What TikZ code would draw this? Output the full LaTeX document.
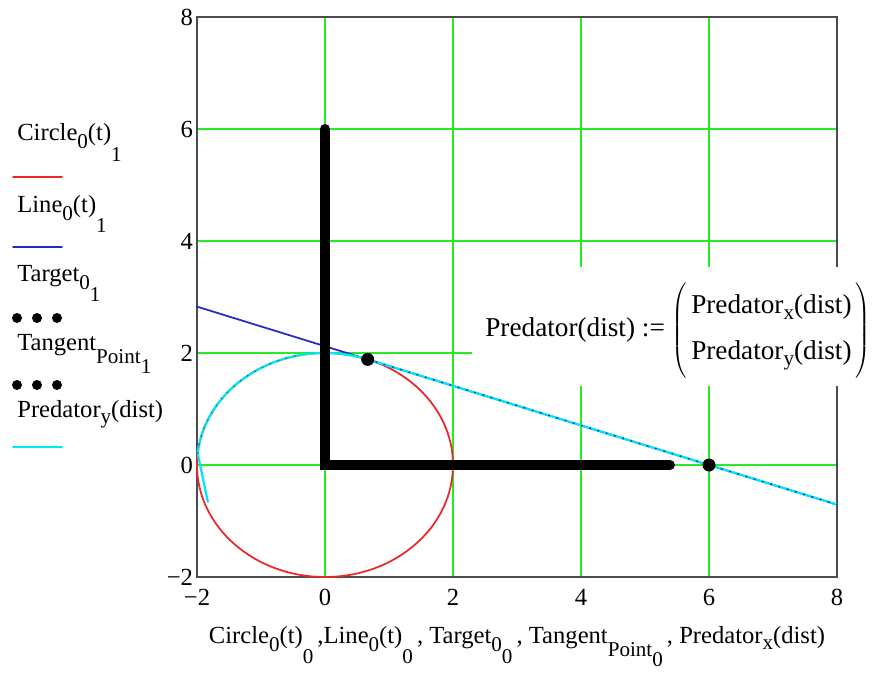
\documentclass[tikz,border=0pt]{standalone}
\usepackage{fontspec}
\setmainfont{Liberation Serif}
\definecolor{gridgreen}{RGB}{40,235,40}
\definecolor{curvered}{RGB}{235,40,40}
\definecolor{lineblue}{RGB}{40,40,200}
\definecolor{predcyan}{RGB}{0,232,245}
\newcommand{\subfont}{\fontsize{12}{12}\selectfont}
\newcommand{\dn}[2]{\raisebox{-#1}{\subfont #2}}

\begin{document}
\begin{tikzpicture}[x=1.28cm,y=1.12cm,line join=round,line cap=round,
  font=\fontsize{14}{17}\selectfont,
  gridline/.style={gridgreen,line width=0.85pt},
  frameline/.style={black!70,line width=0.9pt,line join=miter},
  ticklabel/.style={inner sep=1pt},
  legtext/.style={anchor=base west,inner sep=0pt},
  legline/.style={line width=1pt},
  sparsedots/.style={line width=0.9pt,dash pattern=on 0.4pt off 4.5pt}]
  \useasboundingbox (-5.078,-3.714) rectangle (8.5625,8.3036);

  % ---- griglia e cornice ---------------------------------------------------
  \foreach \v in {0,2,4,6} {
    \draw[gridline] (\v,-2) -- (\v,8);
    \draw[gridline] (-2,\v) -- (8,\v);
  }
  \draw[frameline] (-2,-2) rectangle (8,8);

  \foreach \v/\t in {-2/{−2},0/0,2/2,4/4,6/6,8/8} {
    \node[ticklabel,anchor=east] (yt\v) at (-2.03,\v) {\t};
    \node[ticklabel] (xt\v) at (\v,-2.36) {\t};
  }

  % ---- riquadro della definizione -------------------------------------------
  \fill[white] (2.297,1.411) rectangle (8.5625,3.536);
  \node[anchor=base west,inner sep=0pt,font=\fontsize{15.5}{18}\selectfont] (pdef) at (2.5,2.286)
    {Predator(dist) := $\left(\rule[-0.8cm]{0pt}{1.86cm}\,\begin{tabular}{@{}l@{}}Predator\dn{0.12cm}{x}(dist)\\[8pt]
      Predator\dn{0.12cm}{y}(dist)\end{tabular}\,\right)$};

  % ---- curve ---------------------------------------------------------------
  \coordinate (tp) at (0.667,1.886);
  \coordinate (tg) at (6,0);
  \coordinate (lstart) at (-2,2.828);
  \coordinate (lend) at (8,-0.707);
  \draw[curvered,line width=1pt] (0,0) circle (2);
  \draw[lineblue,line width=1pt] (lstart) -- (lend);
  \draw[predcyan,line width=1.3pt] (-1.83,-0.66) -- (174:2)
    arc[start angle=174,end angle=70.5,radius=2] -- (lend);
  \draw[lineblue,sparsedots] (tp) -- (lend);
  \draw[black!60,sparsedots] (174:2) arc[start angle=174,end angle=100,radius=2];
  \draw[line width=0.2cm,line join=miter] (0,6) -- (0,0) -- (5.39,0);
  \fill (tp) circle[radius=0.13cm];
  \fill (tg) circle[radius=0.13cm];

  % ---- legenda -------------------------------------------------------------
  \node[legtext] (lcircle) at (-4.8125,5.80) {Circle\dn{0.16cm}{0}(t)\dn{0.42cm}{1}};
  \draw[curvered,legline] (-4.875,5.143) -- (-4.109,5.143);
  \node[legtext] (lline) at (-4.8125,4.50) {Line\dn{0.16cm}{0}(t)\dn{0.40cm}{1}};
  \draw[lineblue,legline] (-4.875,3.893) -- (-4.109,3.893);
  \node[legtext] (ltarget) at (-4.8125,3.27) {Target\dn{0.16cm}{0}\dn{0.40cm}{1}};
  \foreach \k in {0,1,2} \fill (-4.8125+0.3125*\k,2.625) circle[radius=0.1cm];
  \node[legtext] (ltangent) at (-4.8125,2.05) {Tangent\dn{0.26cm}{Point}\dn{0.46cm}{1}};
  \foreach \k in {0,1,2} \fill (-4.8125+0.3125*\k,1.429) circle[radius=0.1cm];
  \node[legtext] (lpred) at (-4.8125,0.84) {Predator\dn{0.12cm}{y}(dist)};
  \draw[predcyan,legline] (-4.875,0.321) -- (-4.109,0.321);

  % ---- titolo asse x -------------------------------------------------------
  \node[anchor=base,inner sep=0pt] (xtitle) at (3.0,-3.18)
    {Circle\dn{0.16cm}{0}(t)\dn{0.40cm}{0}\,,Line\dn{0.16cm}{0}(t)\dn{0.40cm}{0}\,,
     Target\dn{0.16cm}{0}\dn{0.40cm}{0}\,, Tangent\dn{0.26cm}{Point}\dn{0.46cm}{0}\,,
     Predator\dn{0.12cm}{x}(dist)};
\end{tikzpicture}
\end{document}
